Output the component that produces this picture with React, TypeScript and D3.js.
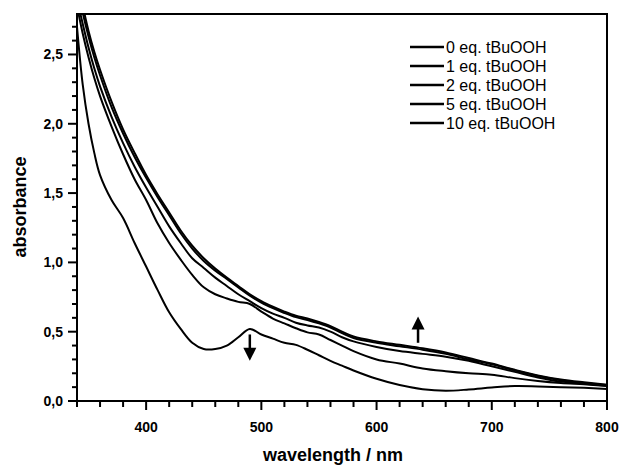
import React, { useEffect, useRef } from "react";
import * as d3 from "d3";

const wavelengths = [340, 345, 350, 355, 360, 370, 380, 390, 400, 410, 420, 430, 440, 450, 460, 470, 480, 490, 500, 510, 520, 530, 540, 550, 560, 570, 580, 600, 620, 640, 660, 680, 700, 720, 740, 760, 780, 800];

const eq0 = [2.7, 2.28, 2.0, 1.79, 1.63, 1.45, 1.32, 1.14, 0.97, 0.8, 0.64, 0.52, 0.42, 0.375, 0.375, 0.4, 0.46, 0.52, 0.48, 0.45, 0.42, 0.405, 0.37, 0.33, 0.29, 0.255, 0.22, 0.16, 0.115, 0.085, 0.074, 0.083, 0.097, 0.108, 0.105, 0.1, 0.095, 0.087];
const eq1 = [2.85, 2.65, 2.48, 2.33, 2.2, 1.98, 1.78, 1.6, 1.45, 1.28, 1.14, 1.02, 0.91, 0.82, 0.77, 0.74, 0.715, 0.7, 0.645, 0.595, 0.56, 0.525, 0.495, 0.48, 0.44, 0.4, 0.36, 0.3, 0.27, 0.235, 0.215, 0.2, 0.19, 0.165, 0.145, 0.13, 0.12, 0.108];
const eq2 = [2.9, 2.72, 2.55, 2.4, 2.27, 2.05, 1.86, 1.69, 1.54, 1.4, 1.26, 1.14, 1.03, 0.96, 0.89, 0.83, 0.77, 0.72, 0.67, 0.63, 0.6, 0.565, 0.545, 0.53, 0.5, 0.46, 0.43, 0.39, 0.36, 0.34, 0.32, 0.29, 0.25, 0.21, 0.17, 0.14, 0.125, 0.11];
const eq5 = [3.0, 2.8, 2.63, 2.48, 2.35, 2.12, 1.93, 1.76, 1.61, 1.47, 1.34, 1.21, 1.1, 1.01, 0.94, 0.88, 0.82, 0.76, 0.71, 0.67, 0.635, 0.605, 0.585, 0.56, 0.53, 0.49, 0.455, 0.42, 0.395, 0.37, 0.34, 0.3, 0.265, 0.22, 0.18, 0.15, 0.13, 0.115];
const eq10 = [3.05, 2.85, 2.67, 2.52, 2.39, 2.16, 1.96, 1.79, 1.63, 1.49, 1.36, 1.23, 1.12, 1.03, 0.955, 0.89, 0.83, 0.77, 0.72, 0.68, 0.645, 0.615, 0.595, 0.57, 0.54, 0.5, 0.465, 0.43, 0.405, 0.38, 0.35, 0.31, 0.27, 0.225, 0.185, 0.155, 0.135, 0.118];

const seriesNames = ["0 eq. tBuOOH", "1 eq. tBuOOH", "2 eq. tBuOOH", "5 eq. tBuOOH", "10 eq. tBuOOH"];
const seriesValues = [eq0, eq1, eq2, eq5, eq10];

const xTicks = [400, 500, 600, 700, 800];
const yTicks = [0, 0.5, 1, 1.5, 2, 2.5];

// arrows: [wavelength, from, to]
const arrows = [
  [490, 0.48, 0.29],
  [636, 0.42, 0.61],
];

const App = () => {
  const ref = useRef(null);

  useEffect(() => {
    const svg = d3.select(ref.current);
    svg.selectAll("*").remove();

    const width = 620;
    const height = 465;
    const margin = { top: 14, right: 13, bottom: 64, left: 77 };
    const font = "'Liberation Sans', Arial, sans-serif";

    const x = d3.scaleLinear().domain([340, 800]).range([margin.left, width - margin.right]);
    const y = d3.scaleLinear().domain([0, 2.792]).range([height - margin.bottom, margin.top]);

    svg.attr("width", width).attr("height", height).style("background", "#fff");

    svg
      .append("defs")
      .append("clipPath")
      .attr("id", "plot")
      .append("rect")
      .attr("x", margin.left)
      .attr("y", margin.top)
      .attr("width", width - margin.left - margin.right)
      .attr("height", height - margin.top - margin.bottom);

    const line = d3
      .line()
      .x((d) => x(d[0]))
      .y((d) => y(d[1]))
      .curve(d3.curveCatmullRom);

    svg
      .append("g")
      .attr("clip-path", "url(#plot)")
      .selectAll("path")
      .data(seriesValues)
      .join("path")
      .attr("d", (vals) => line(wavelengths.map((w, i) => [w, vals[i]])))
      .attr("fill", "none")
      .attr("stroke", "#000")
      .attr("stroke-width", 2);

    // ticks
    const xMinor = d3.range(340, 801, 20);
    svg
      .append("g")
      .selectAll("line")
      .data(xMinor)
      .join("line")
      .attr("x1", (d) => x(d))
      .attr("x2", (d) => x(d))
      .attr("y1", y(0))
      .attr("y2", (d) => y(0) + (d % 100 === 0 ? 9 : 6))
      .attr("stroke", "#000")
      .attr("stroke-width", 2);

    const yMinor = d3.range(0, 28).map((i) => i / 10);
    svg
      .append("g")
      .selectAll("line")
      .data(yMinor)
      .join("line")
      .attr("y1", (d) => y(d))
      .attr("y2", (d) => y(d))
      .attr("x1", x(340))
      .attr("x2", (_, i) => x(340) - (i % 5 === 0 ? 9 : 5))
      .attr("stroke", "#000")
      .attr("stroke-width", 2);

    svg
      .append("g")
      .selectAll("text")
      .data(xTicks)
      .join("text")
      .attr("x", (d) => x(d))
      .attr("y", y(0) + 31)
      .attr("text-anchor", "middle")
      .style("font", `bold 14px ${font}`)
      .text((d) => d);

    svg
      .append("g")
      .selectAll("text")
      .data(yTicks)
      .join("text")
      .attr("x", x(340) - 14)
      .attr("y", (d) => y(d) + 5)
      .attr("text-anchor", "end")
      .style("font", `bold 14px ${font}`)
      .text((d) => d3.format(".1f")(d).replace(".", ","));

    // frame
    svg
      .append("rect")
      .attr("x", margin.left)
      .attr("y", margin.top)
      .attr("width", width - margin.left - margin.right)
      .attr("height", height - margin.top - margin.bottom)
      .attr("fill", "none")
      .attr("stroke", "#000")
      .attr("stroke-width", 2);

    // axis titles
    svg
      .append("text")
      .attr("x", 333)
      .attr("y", 461)
      .attr("text-anchor", "middle")
      .style("font", `bold 18px ${font}`)
      .text("wavelength / nm");

    svg
      .append("text")
      .attr("transform", `translate(26,${y(1.4)}) rotate(-90)`)
      .attr("text-anchor", "middle")
      .style("font", `bold 18px ${font}`)
      .text("absorbance");

    // legend
    const legend = svg.append("g").attr("transform", "translate(410,47)");
    seriesNames.forEach((name, i) => {
      const g = legend.append("g").attr("transform", `translate(0,${i * 19})`);
      g.append("line").attr("x1", 0).attr("x2", 34).attr("stroke", "#000").attr("stroke-width", 2.5);
      g.append("text")
        .attr("x", 36)
        .attr("y", 5.5)
        .style("font", `16px ${font}`)
        .text(name);
    });

    // arrows
    arrows.forEach(([w, a0, a1]) => {
      const dir = a1 < a0 ? 1 : -1;
      const tipY = y(a1);
      svg
        .append("line")
        .attr("x1", x(w))
        .attr("x2", x(w))
        .attr("y1", y(a0))
        .attr("y2", tipY - dir * 10)
        .attr("stroke", "#000")
        .attr("stroke-width", 2.5);
      svg
        .append("path")
        .attr(
          "d",
          `M${x(w)},${tipY} L${x(w) - 6.5},${tipY - dir * 13} L${x(w) + 6.5},${tipY - dir * 13} Z`
        )
        .attr("fill", "#000");
    });
  }, []);

  return <svg ref={ref} style={{ position: "absolute", left: 0, top: 0 }} />;
};

export default App;
